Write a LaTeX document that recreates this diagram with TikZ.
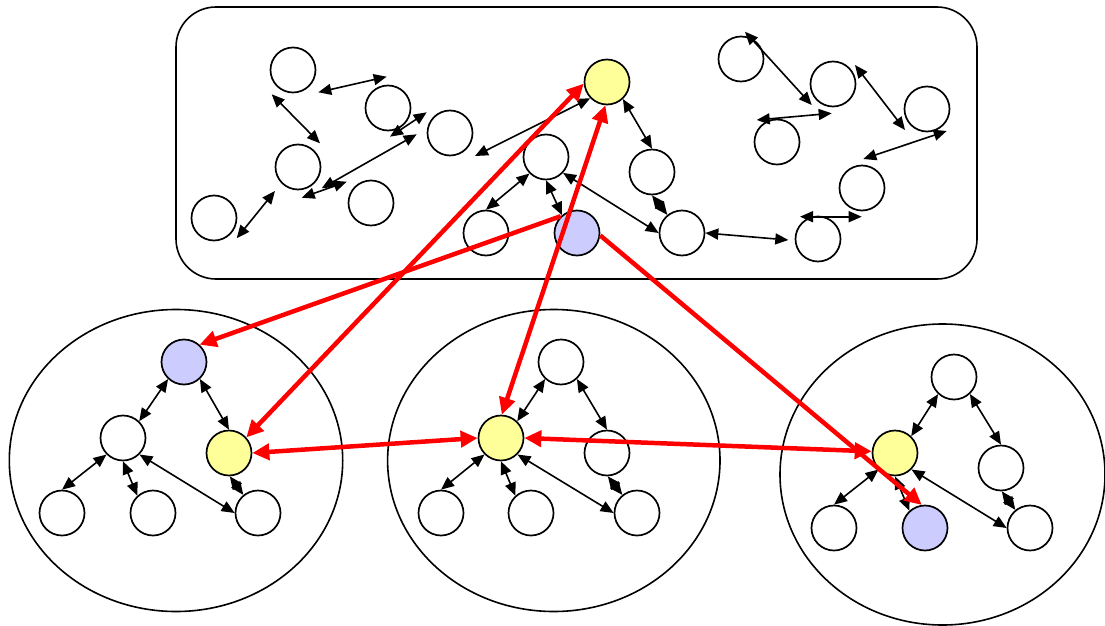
\documentclass[tikz,border=0pt]{standalone}
\usetikzlibrary{arrows.meta}
\definecolor{yel}{HTML}{FFFF99}
\definecolor{blu}{HTML}{CCCCFF}
\begin{document}
\begin{tikzpicture}[x=1pt,y=-1pt,
  nd/.style={circle,draw,line width=1.7pt,minimum size=45pt,inner sep=0pt,fill=white},
  yn/.style={nd,fill=yel},
  bn/.style={nd,fill=blu},
  ar/.style={line width=1.6pt,{Triangle[length=13pt,width=11pt]}-{Triangle[length=13pt,width=11pt]}},
  rar/.style={draw=red,line width=4.5pt,-{Triangle[length=17pt,width=16pt]}},
  rdar/.style={draw=red,line width=4.5pt,{Triangle[length=17pt,width=16pt]}-{Triangle[length=17pt,width=16pt]}},
  grp/.style={line width=1.6pt}]
\useasboundingbox (0,0) rectangle (1105,626);
\clip (0,0) rectangle (1105,626);
% groups
\draw[grp,rounded corners=40pt] (176,7) rectangle (977,279);
\draw[grp] (176,460.5) ellipse [x radius=166.7,y radius=151];
\draw[grp] (553.8,460.5) ellipse [x radius=166.2,y radius=151];
\draw[grp] (942.5,474.5) ellipse [x radius=162.5,y radius=150.5];
% top box nodes
\node[nd] (A) at (293,70) {};
\node[nd] (B) at (388,108) {};
\node[nd] (C) at (450,133) {};
\node[nd] (D) at (298,167) {};
\node[nd] (E) at (371,203) {};
\node[nd] (F) at (214,218) {};
\node[yn] (Y1) at (607,82) {};
\node[nd] (G) at (546,157) {};
\node[nd] (H) at (652,172) {};
\node[nd] (I) at (486,233) {};
\node[bn] (P1) at (577,233) {};
\node[nd] (J) at (682,233) {};
\node[nd] (K) at (741,59) {};
\node[nd] (L) at (833,84) {};
\node[nd] (M) at (927,109) {};
\node[nd] (N) at (777,142) {};
\node[nd] (O) at (862,188) {};
\node[nd] (Q) at (818,239) {};
% ellipse 1
\node[bn] (B1) at (184,362) {};
\node[nd] (W1) at (123,438) {};
\node[yn] (Y2) at (229,453) {};
\node[nd] (W2) at (62,513) {};
\node[nd] (W3) at (153,513) {};
\node[nd] (W4) at (258,513) {};
% ellipse 2
\node[nd] (T2) at (561,362) {};
\node[yn] (Y3) at (501,438) {};
\node[nd] (R2) at (607,453) {};
\node[nd] (X1) at (441,513) {};
\node[nd] (X2) at (531,513) {};
\node[nd] (X3) at (637,513) {};
% ellipse 3
\node[nd] (T3) at (954,377) {};
\node[yn] (Y4) at (895,453) {};
\node[nd] (R3) at (1001,468) {};
\node[nd] (Z1) at (834,528) {};
\node[bn] (B4) at (925,528) {};
\node[nd] (Z3) at (1030,528) {};
% free arrow ends in the top box
\coordinate (a1s) at (318.3,92.3);  \coordinate (a1e) at (386.7,76.7);
\coordinate (a2s) at (271.7,94.3);  \coordinate (a2e) at (320,143.3);
\coordinate (a3s) at (390,136.7);   \coordinate (a3e) at (426.7,112.3);
\coordinate (a4s) at (321.7,188.3); \coordinate (a4e) at (416.7,134.3);
\coordinate (a5s) at (301.7,197.7); \coordinate (a5e) at (346.7,181.7);
\coordinate (a6s) at (236.7,238.3); \coordinate (a6e) at (275,191);
\coordinate (a7e) at (475,156);
\coordinate (a8s) at (745,31.7);    \coordinate (a8e) at (811.7,105);
\coordinate (a9s) at (756.7,120);   \coordinate (a9e) at (831.7,113.3);
\coordinate (a10s) at (855,65);     \coordinate (a10e) at (905,130);
\coordinate (a11s) at (946.7,131);  \coordinate (a11e) at (863.3,159);
\coordinate (a12e) at (788.3,240);
\coordinate (a13s) at (800,216.7);  \coordinate (a13e) at (861.7,216.7);
% top box arrows
\draw[ar] (a1s) -- (a1e);
\draw[ar] (a2s) -- (a2e);
\draw[ar] (a3s) -- (a3e);
\draw[ar] (a4s) -- (a4e);
\draw[ar] (a5s) -- (a5e);
\draw[ar] (a6s) -- (a6e);
\draw[ar] (Y1.224) -- (a7e);
\draw[ar] (Y1.-47) -- (H.90);
\draw[ar] (G.225) -- (I.90);
\draw[ar] (G.-90) -- (P1.130);
\draw[ar] (G.-43) -- (J.180);
\draw[ar] (H.-90) -- (J.129);
\draw[ar] (a8s) -- (a8e);
\draw[ar] (a9s) -- (a9e);
\draw[ar] (a10s) -- (a10e);
\draw[ar] (a11s) -- (a11e);
\draw[ar] (J.0) -- (a12e);
\draw[ar] (a13s) -- (a13e);
% ellipse 1 arrows
\draw[ar] (B1.227) -- (W1.46);
\draw[ar] (B1.-47) -- (Y2.90);
\draw[ar] (W1.225) -- (W2.90);
\draw[ar] (W1.-90) -- (W3.132);
\draw[ar] (W1.-45) -- (W4.180);
\draw[ar] (Y2.-88) -- (W4.129);
% ellipse 2 arrows
\draw[ar] (T2.227) -- (Y3.46);
\draw[ar] (T2.-47) -- (R2.90);
\draw[ar] (Y3.225) -- (X1.90);
\draw[ar] (Y3.-90) -- (X2.132);
\draw[ar] (Y3.-45) -- (X3.180);
\draw[ar] (R2.-88) -- (X3.129);
% ellipse 3 arrows
\draw[ar] (T3.227) -- (Y4.46);
\draw[ar] (T3.-47) -- (R3.90);
\draw[ar] (Y4.225) -- (Z1.90);
\draw[ar] (Y4.-90) -- (B4.132);
\draw[ar] (Y4.-45) -- (Z3.180);
\draw[ar] (R3.-88) -- (Z3.129);
% red arrows
\draw[rar] (P1.134) -- (B1.48);
\draw[rdar] (Y2.42) -- (Y1.184);
\draw[rdar] (Y3.88) -- (Y1.266);
\draw[rar] (P1.-6) -- (B4.98);
\draw[rdar] (Y2.0) -- (Y3.180);
\draw[rdar] (Y3.0) -- (Y4.176);
\end{tikzpicture}
\end{document}
